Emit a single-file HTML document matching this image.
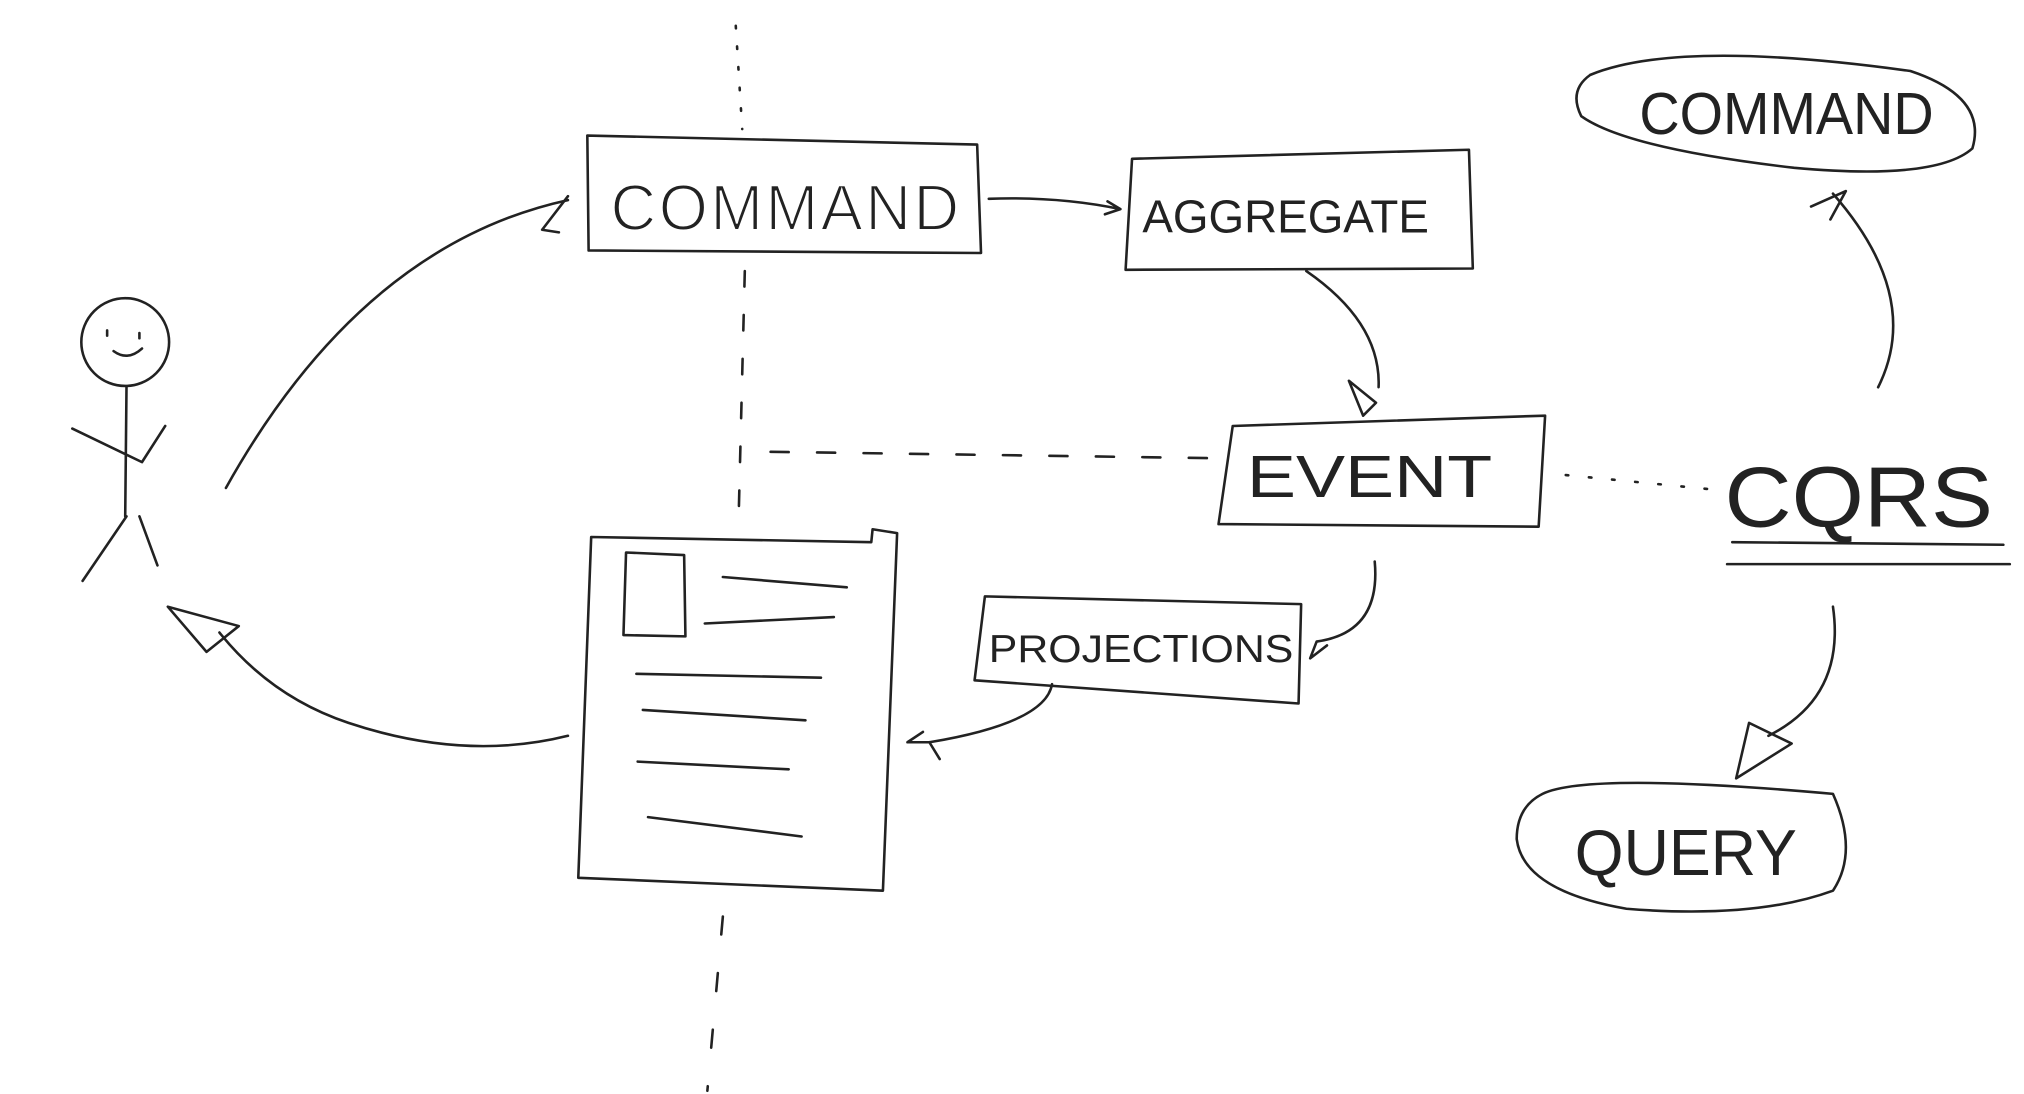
<!DOCTYPE html>
<html><head><meta charset="utf-8"><style>
html,body{margin:0;padding:0;background:#fff;}
svg{display:block;}
text{font-family:"Liberation Sans",sans-serif;fill:#222;font-weight:normal;}
</style></head><body>
<svg width="2024" height="1094" viewBox="0 0 1568 847.5" preserveAspectRatio="none" xmlns="http://www.w3.org/2000/svg">
<g fill="none" stroke="#222" stroke-width="2" stroke-linecap="round" stroke-linejoin="round">
<!-- vertical divider -->
<path d="M570 20 L575 100" stroke-dasharray="2 14"/>
<path d="M577 210 L572 410" stroke-dasharray="12 22"/>
<path d="M560 710 L548 845" stroke-dasharray="14 30"/>
<!-- horizontal dashed -->
<path d="M597 350 L945 355" stroke-dasharray="14 22"/>
<path d="M1213 368 L1335 380" stroke-dasharray="2 16"/>
<!-- COMMAND box -->
<path d="M455 105 L757 112 L760 196 L456 194 Z"/>
<!-- AGGREGATE box -->
<path d="M877 123 L1138 116 L1141 208 L872 209 Z"/>
<!-- EVENT box -->
<path d="M955 330 L1197 322 L1192 408 L944 406 Z"/>
<!-- PROJECTIONS box -->
<path d="M763 462 L1008 468 L1006 545 L755 527 Z"/>
<!-- document -->
<path d="M458 416 L675 420 L676 410 L695 413 L684 690 L448 680 Z"/>
<path d="M485 428 L530 430 L531 493 L483 492 Z"/>
<path d="M560 447 L656 455 M546 483 L646 478 M493 522 L636 525 M498 550 L624 558 M494 590 L611 596 M502 633 L621 648"/>
<!-- stick figure -->
<circle cx="97" cy="265" r="34"/>
<path d="M83 256 v4 M108 258 v4 M88 272 Q99 280 110 270"/>
<path d="M98 300 L97 400 M56 332 L110 358 L128 330 M98 400 L64 450 M108 400 L122 438"/>
<!-- arrows -->
<path d="M175 378 Q280 190 440 155"/>
<path d="M440 152 L420 178 L433 180"/>
<path d="M766 154 Q820 152 868 162 M858 156 L868 162 L856 166"/>
<path d="M1012 210 Q1070 250 1068 300"/>
<path d="M1045 295 L1066 312 L1056 322 Z"/>
<path d="M1065 435 Q1070 490 1020 497 L1015 510 L1028 500"/>
<path d="M815 530 Q810 560 720 575 L703 575 L715 567 M720 575 L728 588"/>
<path d="M440 570 Q360 590 270 560 Q210 540 170 490"/>
<path d="M130 470 L185 485 L160 505 Z"/>
<path d="M1455 300 Q1490 230 1420 150"/>
<path d="M1403 160 L1430 148 L1418 170"/>
<path d="M1420 470 Q1430 540 1370 570"/>
<path d="M1355 560 L1345 603 L1388 576 Z"/>
<!-- ellipses -->
<path d="M1232 58 Q1300 30 1480 55 Q1540 75 1528 115 Q1500 140 1390 130 Q1260 115 1225 90 Q1215 70 1232 58"/>
<path d="M1195 615 Q1230 598 1420 615 Q1440 660 1420 690 Q1360 712 1260 704 Q1180 690 1175 650 Q1175 625 1195 615"/>
<!-- CQRS underline -->
<path d="M1342 420 L1552 422 M1338 437 L1557 437"/>
</g>
<text x="473" y="178" font-size="50" letter-spacing="2" textLength="272" lengthAdjust="spacingAndGlyphs" stroke="#fff" stroke-width="1.5" paint-order="fill">COMMAND</text>
<text x="885" y="180" font-size="36" textLength="222" lengthAdjust="spacingAndGlyphs">AGGREGATE</text>
<text x="966" y="385" font-size="46" textLength="190" lengthAdjust="spacingAndGlyphs">EVENT</text>
<text x="766" y="513" font-size="30" textLength="236" lengthAdjust="spacingAndGlyphs">PROJECTIONS</text>
<text x="1336" y="408" font-size="66" textLength="208" lengthAdjust="spacingAndGlyphs">CQRS</text>
<text x="1270" y="104" font-size="46" textLength="228" lengthAdjust="spacingAndGlyphs">COMMAND</text>
<text x="1220" y="678" font-size="50" textLength="172" lengthAdjust="spacingAndGlyphs">QUERY</text>
</svg>
</body></html>
